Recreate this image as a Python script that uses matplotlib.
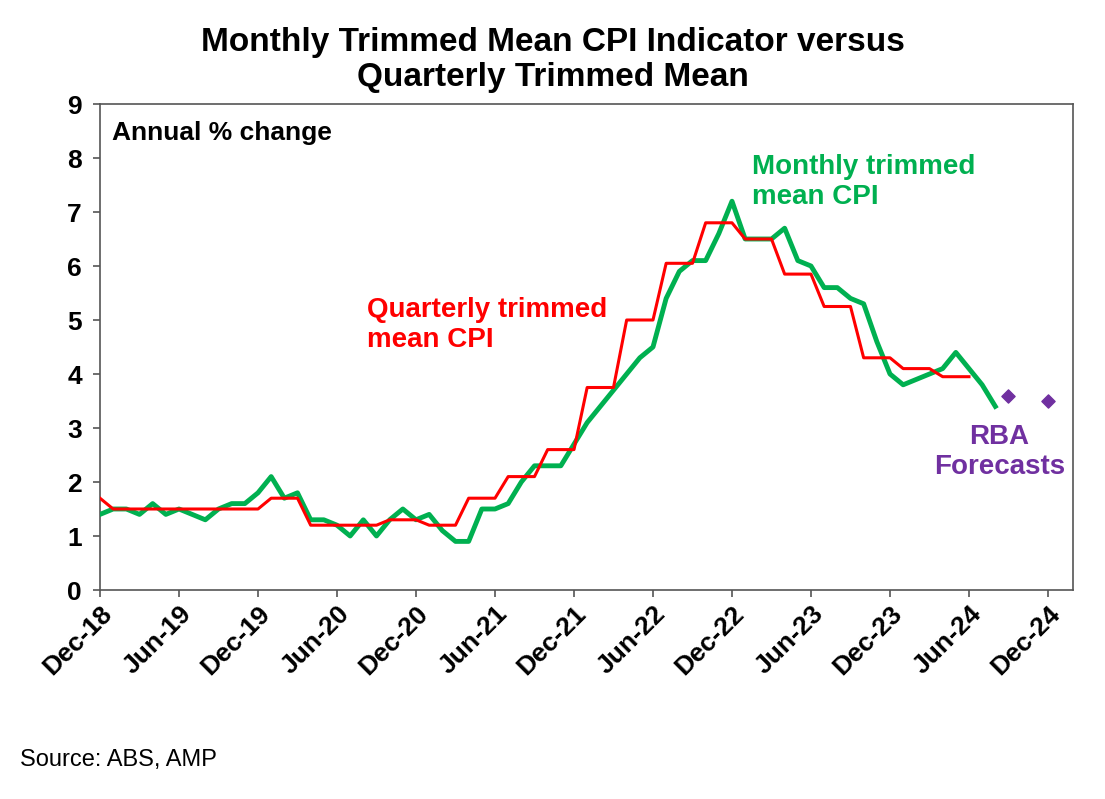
import matplotlib
matplotlib.use("Agg")
import matplotlib.pyplot as plt

plt.rcParams["font.family"] = ["Liberation Sans", "DejaVu Sans"]

# monthly index 0 = Dec-18
monthly = [1.4, 1.5, 1.5, 1.4, 1.6, 1.4, 1.5, 1.4, 1.3, 1.5, 1.6, 1.6, 1.8, 2.1, 1.7, 1.8,
           1.3, 1.3, 1.2, 1.0, 1.3, 1.0, 1.3, 1.5, 1.3, 1.4, 1.1, 0.9, 0.9, 1.5, 1.5,
           1.6, 2.0, 2.3, 2.3, 2.3, 2.7, 3.1, 3.4, 3.7, 4.0, 4.3, 4.5, 5.4, 5.9, 6.1, 6.1,
           6.6, 7.2, 6.5, 6.5, 6.5, 6.7, 6.1, 6.0, 5.6, 5.6, 5.4, 5.3, 4.6, 4.0, 3.8, 3.9,
           4.0, 4.1, 4.4, 4.1, 3.8, 3.4]
quarterly_first = 1.7
quarterly_levels = [1.5, 1.5, 1.5, 1.5, 1.7, 1.2, 1.2, 1.3, 1.2, 1.7, 2.1, 2.6, 3.75,
                    5.0, 6.05, 6.8, 6.5, 5.85, 5.25, 4.3, 4.1, 3.95]
forecast_idx = [69, 72]
forecast_vals = [3.6, 3.5]
tick_labels = ["Dec-18", "Jun-19", "Dec-19", "Jun-20", "Dec-20", "Jun-21", "Dec-21",
               "Jun-22", "Dec-22", "Jun-23", "Dec-23", "Jun-24", "Dec-24"]

quarterly = [quarterly_first] + [v for v in quarterly_levels for _ in range(3)]

fig = plt.figure(figsize=(11.05, 7.99), dpi=100)
ax = fig.add_axes([100 / 1105, 1 - 590 / 799, 973 / 1105, 486 / 799])

ax.plot(range(len(monthly)), monthly, color="#00b050", lw=3.5, zorder=3)
ax.plot(range(len(quarterly)), quarterly, color="#ff0000", lw=2.2, zorder=4)
ax.scatter(forecast_idx, forecast_vals, marker="D", s=45, color="#7030a0", zorder=5)

ax.set_xlim(0, 73.9)
ax.set_ylim(0, 9)
ax.set_yticks(range(10))
ax.set_xticks(range(0, 73, 6))
ax.set_xticklabels(tick_labels, rotation=45, ha="right", rotation_mode="anchor")
for lab in ax.get_xticklabels() + ax.get_yticklabels():
    lab.set_fontsize(19)
    lab.set_fontweight("bold")
ax.tick_params(length=5, width=1.2, color="#555555")
ax.tick_params(axis="y", pad=8)
for s in ax.spines.values():
    s.set_color("#555555")
    s.set_linewidth(1.2)

ax.text(0.012, 0.94, "Annual % change", transform=ax.transAxes, fontsize=19,
        fontweight="bold", va="center")
ax.text(49.5, 7.55, "Monthly trimmed\nmean CPI", color="#00b050", fontsize=20,
        fontweight="bold", va="center", linespacing=1.2)
ax.text(20.3, 4.9, "Quarterly trimmed\nmean CPI", color="#ff0000", fontsize=20,
        fontweight="bold", va="center", linespacing=1.2)
ax.text(68.3, 2.55, "RBA\nForecasts", color="#7030a0", fontsize=20,
        fontweight="bold", va="center", ha="center", linespacing=1.2)

fig.text(0.5, 0.925, "Monthly Trimmed Mean CPI Indicator versus\nQuarterly Trimmed Mean",
         ha="center", va="center", fontsize=24, fontweight="bold", linespacing=1.15)
fig.text(20 / 1105, 1 - 760 / 799, "Source: ABS, AMP", fontsize=17, va="center")

fig.savefig("out.png", dpi=100)
